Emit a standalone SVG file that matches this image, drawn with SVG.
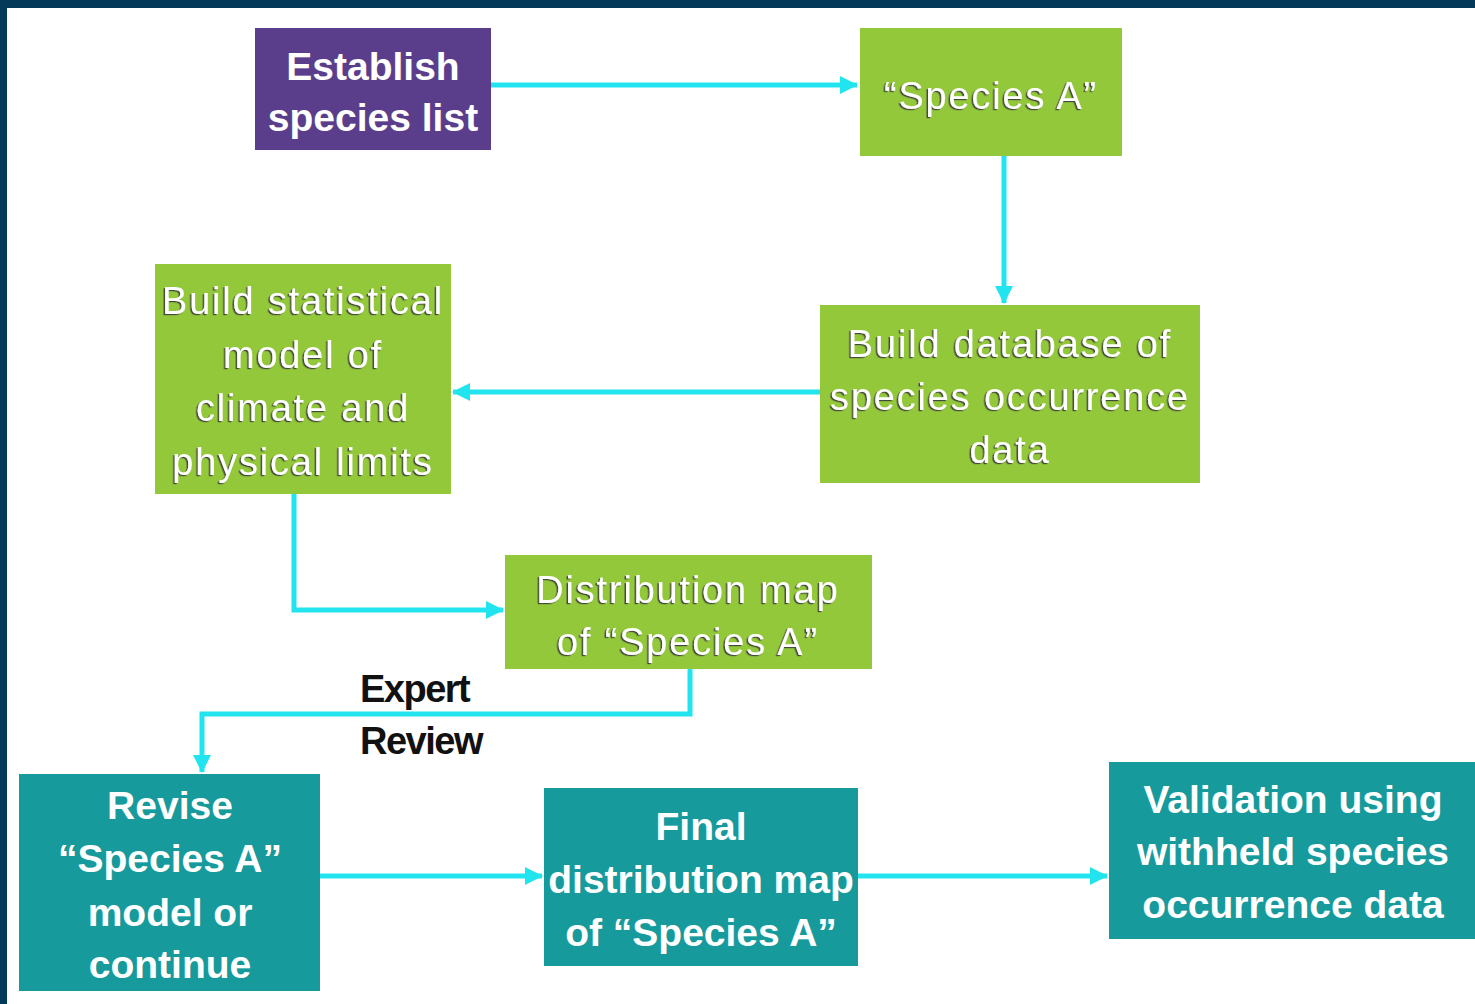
<svg xmlns="http://www.w3.org/2000/svg" width="1475" height="1004" viewBox="0 0 1475 1004">
<style>
.green{fill:#93c83b}
.purple{fill:#5b3e8b}
.teal{fill:#179a9c}
.gt{font-family:"Liberation Sans",Arial,sans-serif;font-size:38px;fill:#ffffff;text-anchor:middle;letter-spacing:1.8px;filter:url(#emb)}
.bt{font-family:"Liberation Sans",Arial,sans-serif;font-size:39px;font-weight:bold;fill:#ffffff;text-anchor:middle}
.lbl{font-family:"Liberation Sans",Arial,sans-serif;font-size:38px;font-weight:bold;fill:#111111;letter-spacing:-1.5px}
.conn{fill:none;stroke:#22e4ee;stroke-width:5}
</style>
<defs>
<filter id="emb" x="-5%" y="-20%" width="110%" height="140%">
<feDropShadow dx="-1.5" dy="1.2" stdDeviation="0.3" flood-color="#3a3a3a" flood-opacity="0.9"/>
</filter>
<marker id="ah" markerUnits="userSpaceOnUse" markerWidth="20" markerHeight="20" refX="17" refY="10" orient="auto">
<path d="M0,1 L18,10 L0,19 z" fill="#22e4ee"/>
</marker>
</defs>
<rect x="0" y="0" width="1475" height="1004" fill="#ffffff"/>
<rect x="0" y="0" width="1475" height="8" fill="#05395a"/>
<rect x="0" y="0" width="7" height="1004" fill="#05395a"/>

<g id="connectors">
<path class="conn" d="M491,85 L857,85" marker-end="url(#ah)"/>
<path class="conn" d="M1004,156 L1004,303" marker-end="url(#ah)"/>
<path class="conn" d="M820,392 L453,392" marker-end="url(#ah)"/>
<path class="conn" d="M294,494 L294,610 L503,610" marker-end="url(#ah)"/>
<path class="conn" d="M690,669 L690,714 L202,714 L202,772" marker-end="url(#ah)"/>
<path class="conn" d="M320,876 L542,876" marker-end="url(#ah)"/>
<path class="conn" d="M858,876 L1107,876" marker-end="url(#ah)"/>
</g>

<g id="establish">
<rect class="purple" x="255" y="28" width="236" height="122"/>
<text class="bt" x="373" y="80">Establish</text>
<text class="bt" x="373" y="131">species list</text>
</g>

<g id="speciesA">
<rect class="green" x="860" y="28" width="262" height="128"/>
<text class="gt" x="991" y="109">“Species A”</text>
</g>

<g id="database">
<rect class="green" x="820" y="305" width="380" height="178"/>
<text class="gt" x="1010" y="357">Build database of</text>
<text class="gt" x="1010" y="410">species occurrence</text>
<text class="gt" x="1010" y="463">data</text>
</g>

<g id="statistical">
<rect class="green" x="155" y="264" width="296" height="230"/>
<text class="gt" x="303" y="314">Build statistical</text>
<text class="gt" x="303" y="368">model of</text>
<text class="gt" x="303" y="421">climate and</text>
<text class="gt" x="303" y="475">physical limits</text>
</g>

<g id="distribution">
<rect class="green" x="505" y="555" width="367" height="114"/>
<text class="gt" x="688" y="603">Distribution map</text>
<text class="gt" x="688" y="655">of “Species A”</text>
</g>

<g id="expert-review">
<text class="lbl" x="360" y="702">Expert</text>
<text class="lbl" x="360" y="754">Review</text>
</g>

<g id="revise">
<rect class="teal" x="19" y="774" width="301" height="217"/>
<text class="bt" x="170" y="819">Revise</text>
<text class="bt" x="170" y="872">“Species A”</text>
<text class="bt" x="170" y="926">model or</text>
<text class="bt" x="170" y="978">continue</text>
</g>

<g id="final">
<rect class="teal" x="544" y="788" width="314" height="178"/>
<text class="bt" x="701" y="840">Final</text>
<text class="bt" x="701" y="893">distribution map</text>
<text class="bt" x="701" y="946">of “Species A”</text>
</g>

<g id="validation">
<rect class="teal" x="1109" y="762" width="366" height="177"/>
<text class="bt" x="1293" y="813">Validation using</text>
<text class="bt" x="1293" y="865">withheld species</text>
<text class="bt" x="1293" y="918">occurrence data</text>
</g>
</svg>
